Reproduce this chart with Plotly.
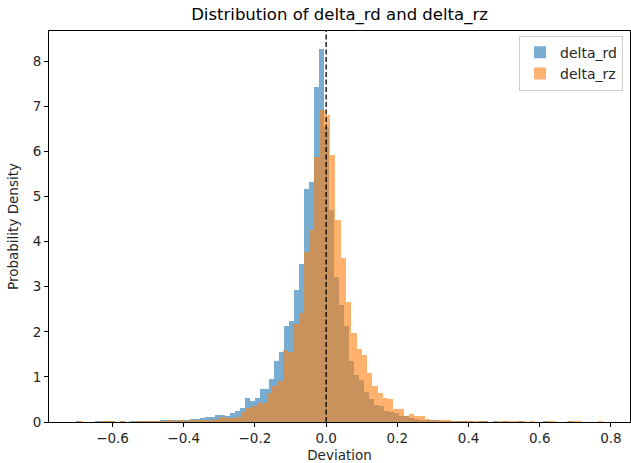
import plotly.graph_objects as go

# ---- data ----
series_names = ["delta_rd", "delta_rz"]

# bin layout of each histogram (100 bins each)
rd_bin_start = -0.704
rd_bin_width = 0.01397
rz_bin_start = -0.6965
rz_bin_width = 0.01475

rd_density = [
    0.02, 0, 0, 0, 0.01, 0.02, 0.02, 0.01, 0, 0.02,
    0, 0.01, 0.02, 0.02, 0.02, 0.02, 0.02, 0.03, 0.03, 0.04,
    0.04, 0.05, 0.05, 0.07, 0.07, 0.08, 0.10, 0.12, 0.16, 0.15,
    0.14, 0.19, 0.25, 0.32, 0.53, 0.46, 0.53, 0.73, 0.73, 0.96,
    1.35, 1.56, 2.13, 2.24, 2.93, 3.51, 5.17, 5.33, 7.43, 8.26,
    6.55, 4.70, 3.22, 2.60, 2.12, 1.36, 1.04, 0.94, 0.66, 0.51,
    0.38, 0.35, 0.25, 0.23, 0.20, 0.13, 0.13, 0.08, 0.06, 0.05,
    0.05, 0.04, 0.03, 0.02, 0.02, 0.02, 0.01, 0.01, 0.01, 0.01,
    0, 0.01, 0.01, 0, 0.01, 0, 0.01, 0, 0, 0.01,
    0, 0, 0, 0, 0.01, 0, 0, 0, 0, 0.01,
]

rz_density = [
    0.02, 0, 0, 0, 0.02, 0.02, 0.01, 0, 0.02, 0,
    0, 0.01, 0.02, 0.02, 0.01, 0.02, 0.02, 0.03, 0.02, 0.03,
    0.02, 0.03, 0.03, 0.03, 0.04, 0.05, 0.06, 0.10, 0.09, 0.08,
    0.12, 0.23, 0.30, 0.35, 0.42, 0.43, 0.64, 0.79, 0.90, 1.60,
    1.56, 2.18, 2.41, 3.78, 4.26, 5.87, 6.92, 6.81, 5.92, 4.48,
    3.63, 2.66, 1.97, 1.62, 1.49, 1.09, 0.80, 0.64, 0.53, 0.51,
    0.28, 0.29, 0.14, 0.18, 0.14, 0.14, 0.07, 0.05, 0.05, 0.04,
    0.03, 0.02, 0.02, 0.02, 0.01, 0.02, 0.01, 0.02, 0, 0,
    0.02, 0.01, 0.02, 0.01, 0.01, 0, 0.02, 0, 0, 0.02,
    0.01, 0, 0, 0.02, 0.01, 0.02, 0, 0, 0, 0.02,
]

x_tick_vals = [-0.6, -0.4, -0.2, 0.0, 0.2, 0.4, 0.6, 0.8]
x_tick_text = ["\u22120.6", "\u22120.4", "\u22120.2", "0.0", "0.2", "0.4", "0.6", "0.8"]
y_tick_vals = [0, 1, 2, 3, 4, 5, 6, 7, 8]
reference_line_x = 0.0

# ---- figure ----
FONT = "DejaVu Sans"
colors = ["#1f77b4", "#ff7f0e"]


def centers(start, width, n):
    return [start + (k + 0.5) * width for k in range(n)]


fig = go.Figure()
for name, start, width, vals, col in [
    (series_names[0], rd_bin_start, rd_bin_width, rd_density, colors[0]),
    (series_names[1], rz_bin_start, rz_bin_width, rz_density, colors[1]),
]:
    fig.add_trace(go.Bar(
        x=centers(start, width, len(vals)),
        y=vals,
        width=width,
        name=name,
        marker=dict(color=col, line=dict(width=0)),
        opacity=0.6,
    ))

fig.add_shape(type="line", xref="x", yref="paper",
              x0=reference_line_x, x1=reference_line_x, y0=0, y1=1,
              line=dict(color="black", width=1.3, dash="5px,2.5px"))

fig.update_layout(
    width=631, height=463,
    barmode="overlay", bargap=0,
    paper_bgcolor="white", plot_bgcolor="white",
    margin=dict(l=49, r=1, t=31, b=41),
    font=dict(family=FONT, size=14, color="#262626"),
    title=dict(text="Distribution of delta_rd and delta_rz",
               x=0.5, xref="paper", xanchor="center",
               y=1 - 14 / 463, yref="container", yanchor="middle",
               font=dict(family=FONT, size=16.5, color="black")),
    showlegend=True,
    legend=dict(x=0.988, y=0.988, xanchor="right", yanchor="top",
                bgcolor="rgba(255,255,255,0.8)", bordercolor="#cccccc",
                borderwidth=1, font=dict(family=FONT, size=14, color="#262626"),
                itemwidth=30, tracegroupgap=2),
    xaxis=dict(range=[-0.7785, 0.8535], tickvals=x_tick_vals, ticktext=x_tick_text,
               showline=True, mirror=True, linecolor="black", linewidth=1,
               ticks="outside", ticklen=4, tickcolor="black", showgrid=False,
               zeroline=False, tickfont=dict(size=13.5, color="#262626"),
               title=dict(text="Deviation", standoff=9,
                          font=dict(size=13.5, color="#262626")),
               automargin=False),
    yaxis=dict(range=[0, 8.67], tickvals=y_tick_vals,
               showline=True, mirror=True, linecolor="black", linewidth=1,
               ticks="outside", ticklen=4, tickcolor="black", showgrid=False,
               zeroline=False, tickfont=dict(size=13.5, color="#262626"),
               title=dict(text="Probability Density", standoff=10,
                          font=dict(size=13.5, color="#262626")),
               automargin=False),
)

fig.write_html("out.html",
               config={"displayModeBar": False},
               post_script="document.body.style.margin='0';document.body.style.padding='0';")
